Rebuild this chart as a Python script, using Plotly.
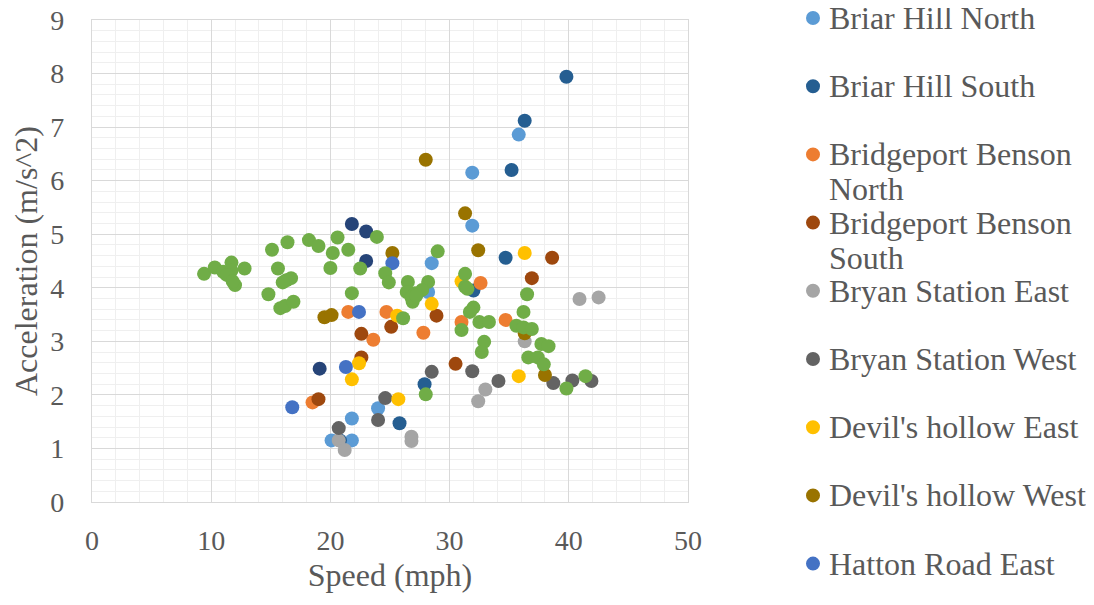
import plotly.graph_objects as go

# ---------------- data ----------------
series_names = [
    "Briar Hill North", "Briar Hill South", "Bridgeport Benson North",
    "Bridgeport Benson South", "Bryan Station East", "Bryan Station West",
    "Devil's hollow East", "Devil's hollow West", "Hatton Road East",
    "Hatton Road West", "Series 11",
]
legend_labels = [
    ["Briar Hill North"], ["Briar Hill South"], ["Bridgeport Benson", "North"],
    ["Bridgeport Benson", "South"], ["Bryan Station East"], ["Bryan Station West"],
    ["Devil's hollow East"], ["Devil's hollow West"], ["Hatton Road East"],
]

bhn_x = [35.8, 31.9, 31.9, 28.5, 28.2, 21.8, 24.0, 20.1, 21.8]
bhn_y = [6.86, 6.15, 5.16, 4.46, 3.92, 1.56, 1.75, 1.15, 1.15]

bhs_x = [39.8, 36.3, 35.2, 34.7, 32.0, 25.8, 27.9, 20.8]
bhs_y = [7.94, 7.12, 6.20, 4.56, 3.95, 1.47, 2.20, 1.15]

bbn_x = [32.6, 24.7, 21.5, 23.6, 27.8, 31.0, 34.7, 18.5]
bbn_y = [4.09, 3.55, 3.55, 3.03, 3.16, 3.36, 3.40, 1.86]

bbs_x = [38.6, 36.9, 25.1, 22.6, 28.9, 22.6, 30.5, 19.0]
bbs_y = [4.56, 4.18, 3.27, 3.14, 3.48, 2.70, 2.58, 1.92]

bse_x = [40.9, 42.5, 36.3, 33.0, 32.4, 26.8, 26.8, 20.7, 21.2]
bse_y = [3.79, 3.82, 3.00, 2.10, 1.88, 1.22, 1.14, 1.15, 0.97]

bsw_x = [28.5, 24.6, 24.0, 20.7, 31.9, 34.1, 38.7, 40.3, 41.9]
bsw_y = [2.43, 1.94, 1.53, 1.38, 2.44, 2.26, 2.22, 2.27, 2.26]

dhe_x = [36.3, 28.5, 22.4, 21.8, 25.7, 35.8, 25.6, 31.0]
dhe_y = [4.65, 3.70, 2.59, 2.29, 1.92, 2.35, 3.48, 4.12]

dhw_x = [28.0, 31.3, 32.4, 25.2, 19.5, 20.1, 38.0, 36.3]
dhw_y = [6.39, 5.39, 4.70, 4.65, 3.45, 3.49, 2.37, 3.15]

hre_x = [25.2, 22.4, 21.3, 16.8]
hre_y = [4.46, 3.55, 2.52, 1.77]

hrw_x = [21.8, 23.0, 23.0, 19.1]
hrw_y = [5.19, 5.05, 4.50, 2.49]

s11_x = [9.4, 10.3, 11.0, 11.7, 11.7, 11.3, 12.8, 12.0, 11.8,
         15.1, 16.4, 18.2, 19.0, 20.6, 20.2, 21.5, 23.9,
         15.6, 20.0, 22.5, 24.6, 24.9,
         16.3, 16.7, 16.0, 21.8, 14.8, 15.8, 16.2, 16.9,
         29.0, 26.5, 28.2, 26.4, 27.1, 27.7, 26.9, 26.8, 27.2, 26.1,
         31.3, 31.3, 31.5, 32.0, 31.7, 32.5, 33.3, 31.0, 32.9, 32.7,
         36.5, 36.2, 35.6, 36.2, 36.9, 37.7, 38.3, 36.6, 37.4, 37.9,
         28.0, 39.8, 41.4]
s11_y = [4.26, 4.38, 4.30, 4.47, 4.32, 4.24, 4.36, 4.05, 4.12,
         4.71, 4.85, 4.89, 4.78, 4.94, 4.65, 4.71, 4.95,
         4.36, 4.37, 4.36, 4.27, 4.10,
         4.14, 4.18, 4.10, 3.90, 3.88, 3.62, 3.66, 3.74,
         4.68, 4.11, 4.11, 3.92, 3.90, 3.96, 3.74, 3.82, 3.85, 3.43,
         4.26, 4.02, 3.98, 3.63, 3.55, 3.36, 3.36, 3.21, 2.99, 2.80,
         3.88, 3.55, 3.29, 3.26, 3.23, 2.95, 2.91, 2.70, 2.70, 2.57,
         2.01, 2.12, 2.35]

colors = ["#5B9BD5", "#255E91", "#ED7D31", "#9E480E", "#A5A5A5", "#636363",
          "#FFC000", "#997300", "#4472C4", "#264478", "#70AD47"]

xs = [bhn_x, bhs_x, bbn_x, bbs_x, bse_x, bsw_x, dhe_x, dhw_x, hre_x, hrw_x, s11_x]
ys = [bhn_y, bhs_y, bbn_y, bbs_y, bse_y, bsw_y, dhe_y, dhw_y, hre_y, hrw_y, s11_y]

# ---------------- figure ----------------
FONT = "Liberation Serif, Times New Roman, serif"
TXT = "#595959"
OFF = 8                      # page body margin
W, H = 1094 - 2 * OFF, 605 - 2 * OFF
ML, MT = 92 - OFF, 20 - OFF
PW, PH = 596, 482
MR, MB = W - ML - PW, H - MT - PH

fig = go.Figure()
for name, x, y, c in zip(series_names, xs, ys, colors):
    fig.add_trace(go.Scatter(x=x, y=y, mode="markers", name=name,
                             marker=dict(size=14, color=c, line=dict(width=0))))

axis_common = dict(
    showgrid=True, gridcolor="#D9D9D9", gridwidth=1.3,
    showline=True, linecolor="#D9D9D9", linewidth=1.3, mirror=True,
    zeroline=False, ticks="", automargin=False, ticklabeloverflow="allow",
    tickfont=dict(family=FONT, size=28, color=TXT),
)
fig.update_xaxes(range=[0, 50], tick0=0, dtick=10,
                 minor=dict(dtick=2, showgrid=True, gridcolor="#EFEFEF", gridwidth=1.3),
                 title=dict(text="Speed (mph)", font=dict(family=FONT, size=32, color=TXT),
                            standoff=8),
                 ticklabelstandoff=13, **axis_common)
fig.update_yaxes(range=[0, 9], tick0=0, dtick=1,
                 minor=dict(dtick=0.2, showgrid=True, gridcolor="#EFEFEF", gridwidth=1.3),
                 title=dict(text="Acceleration (m/s^2)", font=dict(family=FONT, size=32, color=TXT),
                            standoff=3),
                 ticklabelstandoff=21, **axis_common)

# ---------------- legend (Excel-style, drawn as annotations) ----------------
annotations = []
shapes = []
entry_top = 18 - OFF
entry_step = 68.2
line_step = 35
dot_px = 813 - OFF
text_px = 827 - OFF
for i, lines in enumerate(legend_labels):
    cy = entry_top + i * entry_step
    shapes.append(dict(type="circle", xref="paper", yref="paper",
                       xsizemode="pixel", ysizemode="pixel",
                       xanchor=(dot_px - ML) / PW, yanchor=(H - MB - cy) / PH,
                       x0=-7, x1=7, y0=-7, y1=7,
                       fillcolor=colors[i], line=dict(width=0)))
    for j, ln in enumerate(lines):
        ly = cy + j * line_step
        annotations.append(dict(text=ln, xref="paper", yref="paper",
                                x=(text_px - ML) / PW, y=(H - MB - ly) / PH,
                                xanchor="left", yanchor="middle", showarrow=False,
                                font=dict(family=FONT, size=32, color=TXT)))

fig.update_layout(
    width=W, height=H,
    margin=dict(l=ML, r=MR, t=MT, b=MB, autoexpand=False),
    paper_bgcolor="white", plot_bgcolor="white",
    showlegend=False,
    annotations=annotations, shapes=shapes,
    font=dict(family=FONT, color=TXT),
)

fig.write_html("out.html")
